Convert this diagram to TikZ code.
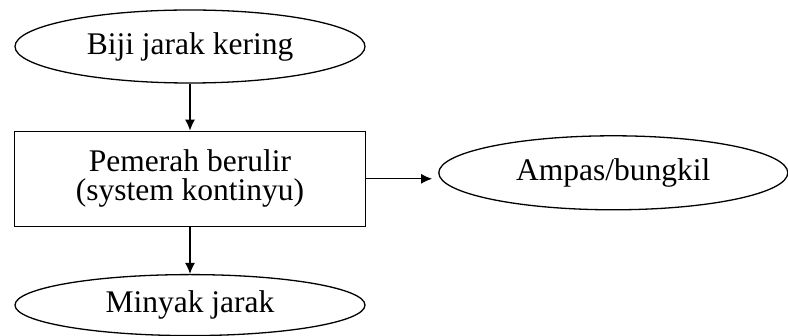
\documentclass[tikz,border=0pt]{standalone}
\usepackage{fontspec}
\setmainfont{Liberation Serif}
\usepackage{tikz}
\usetikzlibrary{shapes.geometric, arrows.meta, positioning}

\begin{document}
\begin{tikzpicture}[
			x=1pt, y=1pt,
			node distance=47pt and 72pt,
			oval/.style={ellipse, draw, line width=1.3pt, inner sep=0pt,
				minimum width=350pt, minimum height=73pt,
				font=\fontsize{31.5}{31}\selectfont},
			box/.style={rectangle, draw, line width=1.3pt, inner sep=0pt,
				minimum width=351pt, minimum height=95pt,
				align=center, font=\fontsize{31.5}{29}\selectfont},
			arrow/.style={-{Latex[length=11pt, width=10pt]}, line width=1.3pt}
			]
			\useasboundingbox (0,0) rectangle (788,-336);
			\node[oval] (biji) at (190,-46.5) {Biji jarak kering};
			\node[box, below=of biji] (pemerah)
			{Pemerah berulir\\(system kontinyu)};
			\node[oval, minimum height=61pt, below=of pemerah] (minyak)
			{Minyak jarak};
			\node[oval, minimum width=349pt, minimum height=74pt,
				right=of pemerah, yshift=6pt] (ampas) {Ampas/bungkil};
			
			\draw[arrow] (biji) -- (pemerah);
			\draw[arrow] (pemerah) -- (minyak);
			\draw[arrow, shorten >=6pt] (pemerah.east) -- (pemerah.east -| ampas.west);
		\end{tikzpicture}
\end{document}
